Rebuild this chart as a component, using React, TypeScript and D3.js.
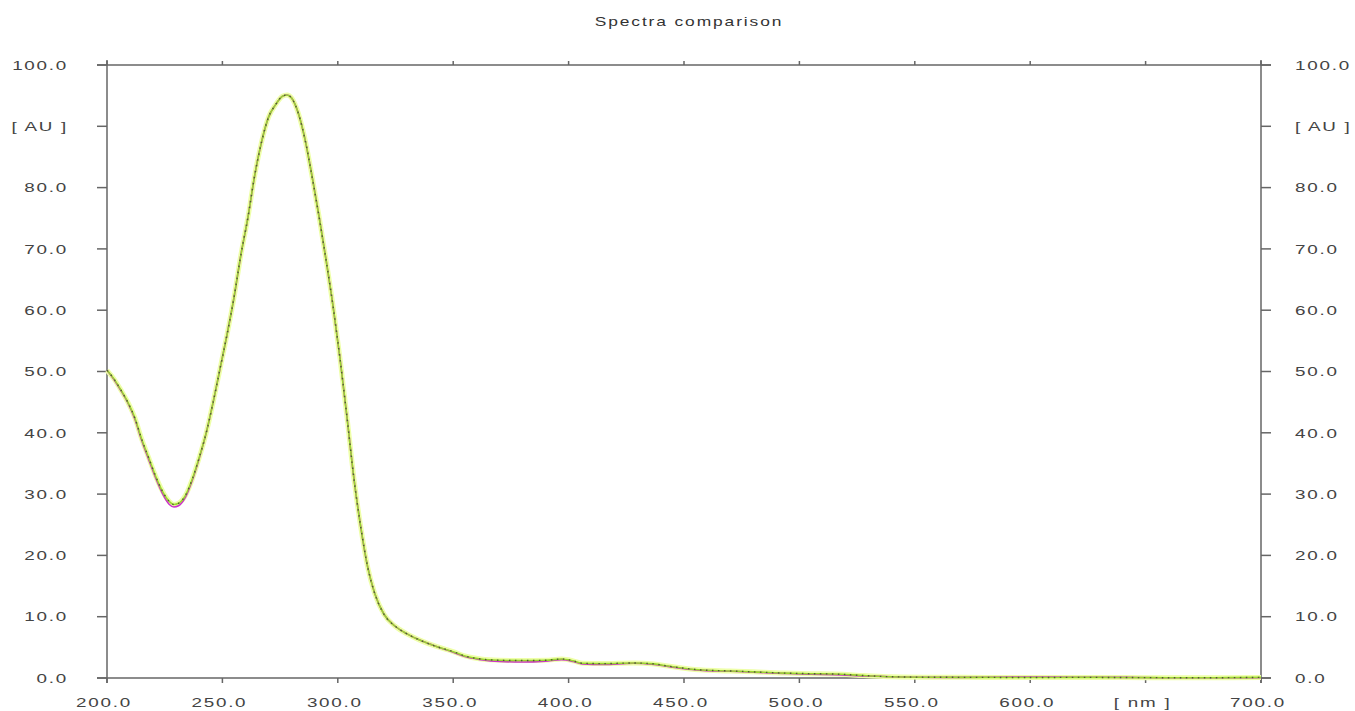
import React from "react";
import * as d3 from "d3";

const WIDTH = 1355;
const HEIGHT = 711;
const PLOT = { left: 107, right: 1261, top: 65, bottom: 678 };

// wavelengths [nm]
const wavelengths = [
  200, 203, 206, 209, 212, 215, 218, 221, 224, 227, 229, 231, 234, 237, 240,
  243, 246, 249, 252, 255, 258, 261, 264, 267, 270, 273, 276, 278, 280, 283,
  286, 289, 292, 295, 298, 301, 304, 307, 310, 313, 316, 320, 325, 330, 336,
  343, 350, 355, 362, 370, 380, 390, 397, 402, 406, 415, 428, 437, 443, 450,
  458, 470, 480, 493, 505, 515, 528, 540, 560, 580, 600, 620, 640, 660, 680,
  700,
];

// green spectrum [AU]
const greenValues = [
  50.2, 48.8, 47, 45, 42.5, 39, 36, 33, 30.5, 28.8, 28.3, 28.5, 29.8, 32.5, 36,
  40, 45, 50.5, 56, 62, 69, 75, 82, 87.5, 91.5, 93.5, 94.9, 95.1, 94.6, 92,
  87.5, 81.5, 75, 68, 60.5, 52, 42.5, 32.5, 24.5, 18, 13.8, 10.4, 8.4, 7.2, 6.1,
  5.1, 4.3, 3.6, 3.1, 2.9, 2.85, 2.9, 3.1, 2.8, 2.4, 2.35, 2.45, 2.3, 1.95, 1.6,
  1.3, 1.15, 1.0, 0.8, 0.7, 0.65, 0.4, 0.2, 0.12, 0.1, 0.08, 0.1, 0.08, 0.05,
  0.05, 0.1,
];

// magenta spectrum [AU]
const magentaValues = [
  50.2, 48.7, 46.9, 44.9, 42.3, 38.8, 35.7, 32.7, 30.1, 28.3, 27.9, 28.1, 29.5, 32.3, 35.9,
  40, 45, 50.5, 56, 62, 69, 75, 82, 87.5, 91.5, 93.5, 94.9, 95.1, 94.6, 92,
  87.5, 81.5, 75, 68, 60.5, 52, 42.5, 32.5, 24.5, 18, 13.8, 10.4, 8.4, 7.2, 6.1,
  5.1, 4.2, 3.5, 3.0, 2.7, 2.6, 2.75, 3.0, 2.7, 2.3, 2.2, 2.4, 2.2, 1.9, 1.5,
  1.25, 1.1, 0.95, 0.75, 0.6, 0.55, 0.35, 0.2, 0.1, 0.12, 0.15, 0.12, 0.1, 0.05,
  0.05, 0.05,
];

// dark reference spectrum [AU]
const darkValues = greenValues;

const yTicks = [0, 10, 20, 30, 40, 50, 60, 70, 80, 90, 100];
const xTicks = [200, 250, 300, 350, 400, 450, 500, 550, 600, 650, 700];
const yUnit = "[ AU ]";
const xUnit = "[ nm ]";
const TITLE = "Spectra comparison";

const FONT = "'Liberation Sans', Arial, sans-serif";
const AXIS = "#666";
const TEXT = "#444";

const Label = ({ x, y, anchor, children }) => (
  <g transform={`translate(${x},${y}) scale(1.45,1)`}>
    <text
      textAnchor={anchor}
      fontFamily={FONT}
      fontSize={13}
      letterSpacing={1.2}
      fill={TEXT}
    >
      {children}
    </text>
  </g>
);

export default function App() {
  const x = d3.scaleLinear().domain([200, 700]).range([PLOT.left, PLOT.right]);
  const y = d3.scaleLinear().domain([0, 100]).range([PLOT.bottom, PLOT.top]);

  const line = d3
    .line<number>()
    .x((d, i) => x(wavelengths[i]))
    .y((d) => y(d))
    .curve(d3.curveMonotoneX);

  const yLabel = (t) => (t === 90 ? yUnit : t.toFixed(1));
  const xLabel = (t) => (t === 650 ? xUnit : t.toFixed(1));

  return (
    <svg
      width={WIDTH}
      height={HEIGHT}
      style={{ position: "absolute", left: 0, top: 0, background: "#fff" }}
    >
      <g transform={`translate(689,26) scale(1.45,1)`}>
        <text
          textAnchor="middle"
          fontFamily={FONT}
          fontSize={12}
          letterSpacing={1.3}
          fill="#333"
        >
          {TITLE}
        </text>
      </g>

      {/* frame */}
      <g stroke={AXIS} strokeWidth={1.5} fill="none">
        <line x1={PLOT.left - 10} x2={PLOT.right + 10} y1={y(100)} y2={y(100)} />
        <line x1={PLOT.left - 10} x2={PLOT.right + 10} y1={y(0)} y2={y(0)} />
        <line x1={x(200)} x2={x(200)} y1={PLOT.top - 5} y2={PLOT.bottom + 5} />
        <line x1={x(700)} x2={x(700)} y1={PLOT.top - 5} y2={PLOT.bottom + 5} />
        {yTicks.map((t) => (
          <g key={`yt${t}`}>
            <line x1={PLOT.left - 10} x2={PLOT.left} y1={y(t)} y2={y(t)} />
            <line x1={PLOT.right} x2={PLOT.right + 10} y1={y(t)} y2={y(t)} />
          </g>
        ))}
        {xTicks.map((t) => (
          <g key={`xt${t}`}>
            <line x1={x(t)} x2={x(t)} y1={PLOT.bottom} y2={PLOT.bottom + 5} />
            <line x1={x(t)} x2={x(t)} y1={PLOT.top - 4} y2={PLOT.top} />
          </g>
        ))}
      </g>

      {/* y labels */}
      {yTicks.map((t) => (
        <g key={`yl${t}`}>
          <Label x={68} y={y(t) + 4.7} anchor="end">
            {yLabel(t)}
          </Label>
          <Label x={1295} y={y(t) + 4.7} anchor="start">
            {yLabel(t)}
          </Label>
        </g>
      ))}

      {/* x labels */}
      {xTicks.map((t) => (
        <Label key={`xl${t}`} x={x(t) - 3} y={707} anchor="middle">
          {xLabel(t)}
        </Label>
      ))}

      {/* spectra */}
      <path d={line(greenValues)} fill="none" stroke="#eeffa8" strokeWidth={5} />
      <path d={line(magentaValues)} fill="none" stroke="#cc33cc" strokeWidth={1.6} />
      <path d={line(greenValues)} fill="none" stroke="#9ad62e" strokeWidth={1.6} />
      <path
        d={line(darkValues)}
        fill="none"
        stroke="#333"
        strokeWidth={1.4}
        strokeDasharray="1.5 4.5"
        opacity={0.75}
      />
    </svg>
  );
}
